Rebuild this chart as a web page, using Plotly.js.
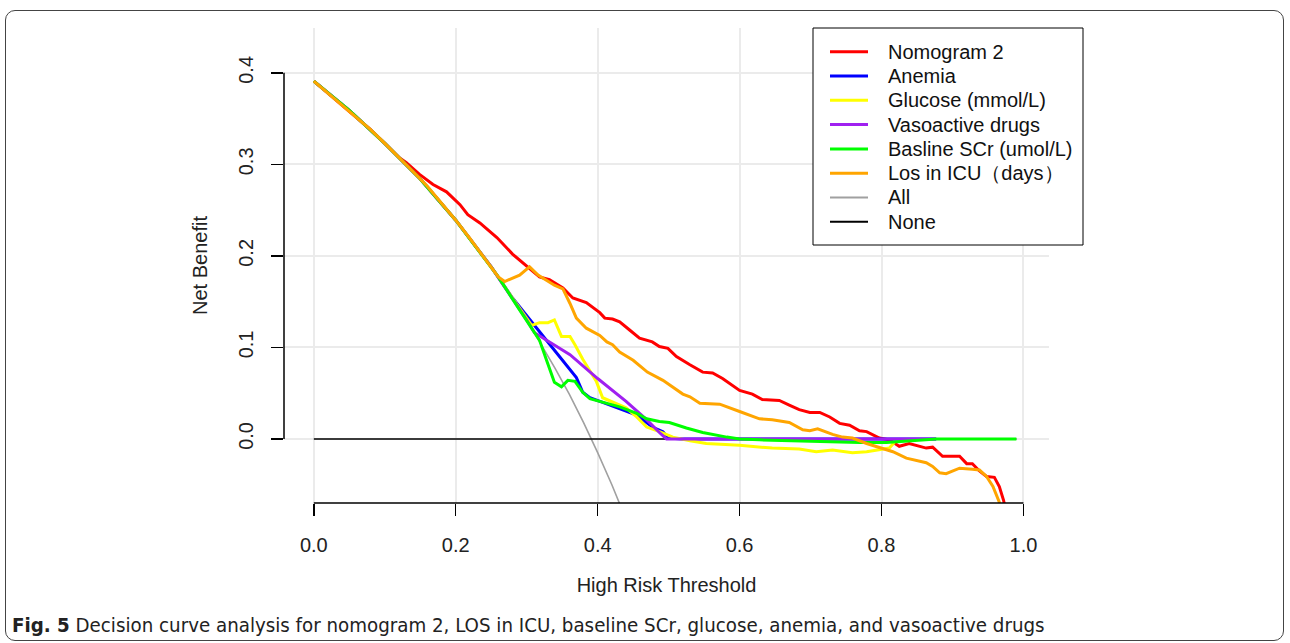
<!DOCTYPE html>
<html>
<head>
<meta charset="utf-8">
<script src="https://cdn.plot.ly/plotly-3.0.1.min.js"></script>
<style>
html,body{margin:0;padding:0;background:#fff;}
#wrap{position:relative;width:1290px;height:643px;overflow:hidden;}
#chart{position:absolute;left:0;top:0;width:1290px;height:643px;}
#frame{position:absolute;left:5px;top:10px;width:1277px;height:629px;border:1px solid #444;border-radius:10px;pointer-events:none;}
</style>
</head>
<body>
<div id="wrap"><div id="chart"></div><div id="frame"></div></div>
<script>
// ---- data ----
const allT  = [0, 0.05, 0.10, 0.15, 0.20, 0.25, 0.30, 0.32, 0.34, 0.36, 0.38, 0.40, 0.42, 0.44];
const allNB = [0.391, 0.359, 0.323, 0.284, 0.239, 0.188, 0.130, 0.104, 0.077, 0.049, 0.018, -0.015, -0.050, -0.088];

const noneT  = [0, 0.99];
const noneNB = [0, 0];

const nomoT  = [0, 0.02, 0.04, 0.06, 0.08, 0.10, 0.121, 0.13, 0.149, 0.168, 0.187, 0.206, 0.217, 0.234, 0.258, 0.28, 0.30, 0.318, 0.332, 0.351, 0.365, 0.384, 0.403, 0.41, 0.421, 0.431, 0.445, 0.459, 0.477, 0.487, 0.499, 0.511, 0.530, 0.548, 0.562, 0.576, 0.600, 0.618, 0.632, 0.656, 0.670, 0.684, 0.699, 0.713, 0.727, 0.741, 0.755, 0.769, 0.779, 0.797, 0.811, 0.825, 0.839, 0.854, 0.863, 0.872, 0.886, 0.896, 0.910, 0.920, 0.928, 0.938, 0.948, 0.959, 0.966, 0.972, 0.978];
const nomoNB = [0.391, 0.378, 0.365, 0.352, 0.338, 0.323, 0.307, 0.302, 0.289, 0.278, 0.270, 0.256, 0.245, 0.236, 0.220, 0.202, 0.189, 0.177, 0.174, 0.165, 0.154, 0.149, 0.138, 0.132, 0.131, 0.128, 0.119, 0.110, 0.106, 0.101, 0.099, 0.090, 0.081, 0.073, 0.072, 0.066, 0.053, 0.049, 0.043, 0.042, 0.037, 0.032, 0.029, 0.029, 0.024, 0.017, 0.015, 0.009, 0.008, 0.001, -0.001, -0.008, -0.005, -0.008, -0.010, -0.009, -0.019, -0.019, -0.019, -0.027, -0.027, -0.035, -0.041, -0.042, -0.052, -0.067, -0.090];

const anemiaT  = [0, 0.05, 0.10, 0.15, 0.20, 0.25, 0.28, 0.370, 0.379, 0.389, 0.407, 0.435, 0.455, 0.477, 0.492, 0.499, 0.52, 0.60, 0.70, 0.80, 0.877];
const anemiaNB = [0.391, 0.359, 0.323, 0.284, 0.239, 0.188, 0.154, 0.067, 0.051, 0.045, 0.040, 0.032, 0.026, 0.013, 0.008, 0.001, 0, 0, 0, 0, 0];

const glucoseT  = [0, 0.05, 0.10, 0.15, 0.20, 0.25, 0.28, 0.307, 0.318, 0.330, 0.339, 0.349, 0.361, 0.368, 0.379, 0.389, 0.398, 0.407, 0.421, 0.44, 0.455, 0.469, 0.487, 0.506, 0.53, 0.553, 0.60, 0.646, 0.684, 0.708, 0.731, 0.759, 0.779, 0.797, 0.811, 0.818];
const glucoseNB = [0.391, 0.359, 0.323, 0.284, 0.239, 0.188, 0.154, 0.124, 0.127, 0.127, 0.130, 0.112, 0.112, 0.103, 0.087, 0.075, 0.063, 0.045, 0.040, 0.034, 0.024, 0.013, 0.008, 0.002, -0.002, -0.005, -0.007, -0.010, -0.011, -0.014, -0.012, -0.015, -0.014, -0.012, -0.010, -0.004];

const vasoT  = [0, 0.05, 0.10, 0.15, 0.20, 0.25, 0.30, 0.311, 0.361, 0.40, 0.44, 0.469, 0.487, 0.497, 0.55, 0.70, 0.877];
const vasoNB = [0.391, 0.359, 0.323, 0.284, 0.239, 0.188, 0.130, 0.116, 0.092, 0.066, 0.041, 0.021, 0.007, 0, 0, 0, 0];

const scrT  = [0, 0.05, 0.10, 0.15, 0.20, 0.25, 0.26, 0.29, 0.309, 0.318, 0.328, 0.339, 0.349, 0.358, 0.368, 0.379, 0.389, 0.403, 0.431, 0.455, 0.469, 0.487, 0.501, 0.525, 0.548, 0.582, 0.60, 0.628, 0.675, 0.713, 0.769, 0.807, 0.85, 0.877, 0.99];
const scrNB = [0.391, 0.359, 0.323, 0.284, 0.239, 0.188, 0.177, 0.141, 0.119, 0.108, 0.086, 0.062, 0.057, 0.064, 0.063, 0.051, 0.044, 0.041, 0.035, 0.028, 0.022, 0.019, 0.018, 0.012, 0.007, 0.002, 0, -0.001, -0.002, -0.003, -0.004, -0.004, -0.002, 0, 0];

const losT  = [0, 0.02, 0.04, 0.06, 0.08, 0.10, 0.12, 0.14, 0.16, 0.18, 0.20, 0.22, 0.24, 0.26, 0.269, 0.29, 0.304, 0.316, 0.339, 0.351, 0.361, 0.370, 0.384, 0.403, 0.413, 0.421, 0.431, 0.45, 0.470, 0.492, 0.520, 0.530, 0.544, 0.572, 0.600, 0.628, 0.646, 0.670, 0.689, 0.699, 0.71, 0.731, 0.745, 0.759, 0.779, 0.797, 0.816, 0.835, 0.863, 0.872, 0.882, 0.891, 0.910, 0.928, 0.938, 0.948, 0.957, 0.966, 0.972];
const losNB = [0.391, 0.378, 0.365, 0.352, 0.338, 0.323, 0.308, 0.292, 0.276, 0.258, 0.239, 0.219, 0.198, 0.177, 0.172, 0.179, 0.188, 0.179, 0.168, 0.164, 0.148, 0.132, 0.121, 0.113, 0.106, 0.103, 0.095, 0.086, 0.073, 0.064, 0.049, 0.046, 0.039, 0.038, 0.030, 0.022, 0.021, 0.018, 0.010, 0.009, 0.011, 0.005, 0.002, 0.001, -0.005, -0.009, -0.014, -0.021, -0.026, -0.030, -0.037, -0.038, -0.032, -0.033, -0.034, -0.041, -0.052, -0.069, -0.090];

const xTicks = [0, 0.2, 0.4, 0.6, 0.8, 1.0];
const xTickLabels = ['0.0', '0.2', '0.4', '0.6', '0.8', '1.0'];
const yTicks = [0, 0.1, 0.2, 0.3, 0.4];
const yTickLabels = ['0.0', '0.1', '0.2', '0.3', '0.4'];

const seriesNames = ['Nomogram 2', 'Anemia', 'Glucose (mmol/L)', 'Vasoactive drugs', 'Basline SCr (umol/L)', 'Los in ICU（days）', 'All', 'None'];
const caption = '<b>Fig. 5</b> Decision curve analysis for nomogram 2, LOS in ICU, baseline SCr, glucose, anemia, and vasoactive drugs';

// ---- styling ----
const colors = ['#FF0000', '#0000FF', '#FFFF00', '#A020F0', '#00FF00', '#FFA500', '#A0A0A0', '#000000'];
const widths = [3, 3, 3, 3, 3, 3, 1.6, 1.6];
const xs = [nomoT, anemiaT, glucoseT, vasoT, scrT, losT, allT, noneT];
const ys = [nomoNB, anemiaNB, glucoseNB, vasoNB, scrNB, losNB, allNB, noneNB];

const drawOrder = [6, 7, 0, 1, 2, 3, 4, 5];
const traces = drawOrder.map(i => ({
  type: 'scatter', mode: 'lines', name: seriesNames[i],
  x: xs[i], y: ys[i],
  line: {color: colors[i], width: widths[i]},
  showlegend: false
}));

// plot area in pixels
const L = 284, R = 1049, T = 28, B = 503;
const px = v => (v - L) / (R - L);
const py = v => (B - v) / (B - T);

const shapes = [
  // R-style axis lines spanning the tick range
  {type: 'line', xref: 'x', yref: 'paper', x0: 0, x1: 1, y0: 0, y1: 0, line: {color: '#000', width: 1.5}},
  {type: 'line', xref: 'paper', yref: 'y', x0: 0, x1: 0, y0: 0, y1: 0.4, line: {color: '#000', width: 1.5}},
  // legend box
  {type: 'rect', xref: 'paper', yref: 'paper', x0: px(813), x1: px(1083), y0: py(28), y1: py(245),
   line: {color: '#000', width: 1}, fillcolor: '#fff', layer: 'above'}
];
const annotations = [];
const rowY0 = 51.7, rowStep = 24.3;
seriesNames.forEach((n, i) => {
  const yy = rowY0 + i * rowStep;
  shapes.push({type: 'line', xref: 'paper', yref: 'paper', x0: px(830), x1: px(868), y0: py(yy), y1: py(yy),
    line: {color: colors[i], width: i < 6 ? 3 : 2}, layer: 'above'});
  annotations.push({xref: 'paper', yref: 'paper', x: px(886), y: py(yy), text: n, showarrow: false,
    xanchor: 'left', yanchor: 'middle', font: {family: 'Liberation Sans, Arial, sans-serif', size: 20, color: '#111'}});
});
annotations.push({xref: 'paper', yref: 'paper', x: px(10), y: py(625), text: caption, showarrow: false,
  xanchor: 'left', yanchor: 'middle',
  font: {family: 'Liberation Sans Narrow, DejaVu Sans Condensed, sans-serif', size: 20.3, color: '#222'}});

const axisFont = {family: 'Liberation Sans, Arial, sans-serif', size: 20, color: '#222'};
const layout = {
  width: 1290, height: 643,
  margin: {l: L, r: 1290 - R, t: T, b: 643 - B, pad: 0},
  paper_bgcolor: 'rgba(0,0,0,0)', plot_bgcolor: '#fff',
  showlegend: false,
  xaxis: {
    range: [-0.042, 1.036], tickvals: xTicks, ticktext: xTickLabels,
    ticks: 'outside', ticklen: 12, tickwidth: 1.5, tickcolor: '#000',
    showline: false, zeroline: false, showgrid: true, gridcolor: '#EBEBEB', gridwidth: 2,
    tickfont: axisFont, ticklabelstandoff: 12,
    title: {text: 'High Risk Threshold', font: axisFont, standoff: 22}
  },
  yaxis: {
    range: [-0.070, 0.449], tickvals: yTicks, ticktext: yTickLabels, tickangle: -90,
    ticks: 'outside', ticklen: 12, tickwidth: 1.5, tickcolor: '#000',
    showline: false, zeroline: false, showgrid: true, gridcolor: '#EBEBEB', gridwidth: 2,
    tickfont: axisFont, ticklabelstandoff: 10,
    title: {text: 'Net Benefit', font: axisFont, standoff: 22}
  },
  shapes: shapes,
  annotations: annotations,
  font: axisFont
};
Plotly.newPlot('chart', traces, layout, {displayModeBar: false, staticPlot: true});
</script>
</body>
</html>
